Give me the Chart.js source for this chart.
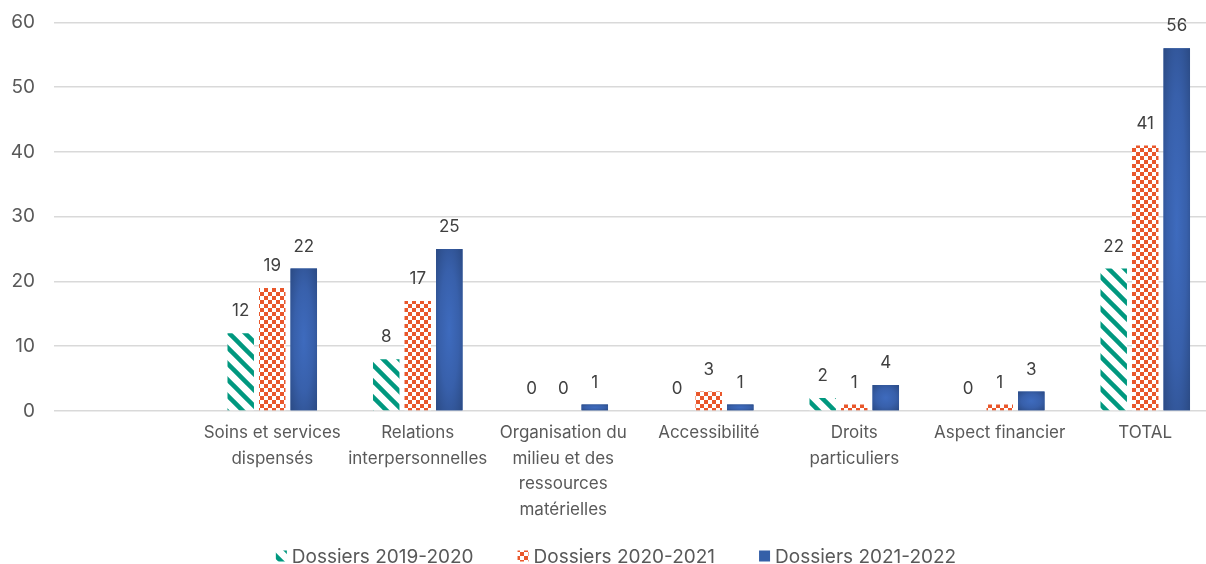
<!DOCTYPE html>
<html lang="fr">
<head>
<meta charset="utf-8">
<title>Dossiers par motif</title>
<script src="https://cdn.jsdelivr.net/npm/chart.js@4/dist/chart.umd.min.js"></script>
<style>
  html, body { margin: 0; padding: 0; background: #ffffff; overflow: hidden; }
  #wrap { width: 1232px; height: 572px; margin-top: -8px; }
</style>
</head>
<body>
<div id="wrap"><canvas id="chart" width="1232" height="572"></canvas></div>
<script>
// Motifs (the first slot is intentionally left blank)
const categories = [
  '',
  ['Soins et services', 'dispensés'],
  ['Relations', 'interpersonnelles'],
  ['Organisation du', 'milieu et des', 'ressources', 'matérielles'],
  'Accessibilité',
  ['Droits', 'particuliers'],
  'Aspect financier',
  'TOTAL'
];

const seriesNames = ['Dossiers 2019-2020', 'Dossiers 2020-2021', 'Dossiers 2021-2022'];

const dossiers2019 = [null, 12, 8, 0, 0, 2, 0, 22];
const dossiers2020 = [null, 19, 17, 0, 3, 1, 1, 41];
const dossiers2021 = [null, 22, 25, 1, 1, 4, 3, 56];

const yTicks = [0, 10, 20, 30, 40, 50, 60];

const GREEN = '#00987F';
const ORANGE = '#E9572B';
const BLUE = '#3560A8';
const TEXT = '#595959';
const FONT = 'Inter, "Open Sans", "DejaVu Sans", sans-serif';

// Diagonal stripe fill for the first series
function stripePattern(color) {
  const c = document.createElement('canvas');
  c.width = 16; c.height = 16;
  const g = c.getContext('2d');
  g.fillStyle = '#ffffff';
  g.fillRect(0, 0, 16, 16);
  g.strokeStyle = color;
  g.lineWidth = 4.5;
  g.lineCap = 'square';
  for (const x0 of [-16, 0, 16]) {
    g.beginPath();
    g.moveTo(x0, 0);
    g.lineTo(x0 + 16, 16);
    g.stroke();
  }
  return g.createPattern(c, 'repeat');
}

// Checkerboard fill for the second series
function checkerPattern(color) {
  const c = document.createElement('canvas');
  c.width = 8; c.height = 8;
  const g = c.getContext('2d');
  g.fillStyle = '#ffffff';
  g.fillRect(0, 0, 8, 8);
  g.fillStyle = color;
  g.fillRect(0, 0, 4, 4);
  g.fillRect(4, 4, 4, 4);
  return g.createPattern(c, 'repeat');
}

// Shades the third series with a soft centre-lit gradient
const shadedBars = {
  id: 'shadedBars',
  afterDatasetDraw(chart, args) {
    if (args.index !== 2) return;
    const ctx = chart.ctx;
    args.meta.data.forEach((el) => {
      const p = el.getProps(['x', 'y', 'base', 'width'], true);
      const h = Math.abs(p.base - p.y);
      if (!h) return;
      const cy = (p.y + p.base) / 2;
      ctx.save();
      ctx.translate(p.x, cy);
      ctx.scale(p.width / 2, h / 2);
      const grad = ctx.createRadialGradient(0, 0, 0, 0, 0, 1.35);
      grad.addColorStop(0, '#3E6BBE');
      grad.addColorStop(0.55, '#3860AB');
      grad.addColorStop(1, '#2C4C87');
      ctx.fillStyle = grad;
      ctx.fillRect(-1, -1, 2, 2);
      ctx.restore();
    });
  }
};

// Value written above every bar
const valueLabels = {
  id: 'valueLabels',
  afterDatasetsDraw(chart) {
    const ctx = chart.ctx;
    ctx.save();
    ctx.font = '17px ' + FONT;
    ctx.fillStyle = '#404040';
    ctx.textAlign = 'center';
    ctx.textBaseline = 'middle';
    chart.data.datasets.forEach((ds, i) => {
      const meta = chart.getDatasetMeta(i);
      meta.data.forEach((el, j) => {
        const v = ds.data[j];
        if (v === null || v === undefined) return;
        const p = el.getProps(['x', 'y'], true);
        ctx.fillText(String(v), p.x, p.y - 22);
      });
    });
    ctx.restore();
  }
};

// Legend row under the axis: swatch + series name, centred
const bottomLegend = {
  id: 'bottomLegend',
  afterDraw(chart) {
    const ctx = chart.ctx;
    const box = 11, gap = 5, spacing = 44;
    const y = chart.chartArea.bottom + 145;
    ctx.save();
    ctx.font = '19px ' + FONT;
    ctx.textBaseline = 'middle';
    ctx.textAlign = 'left';
    const items = chart.data.datasets.map(ds => ({
      text: ds.label,
      fill: ds.backgroundColor,
      w: box + gap + ctx.measureText(ds.label).width
    }));
    const total = items.reduce((s, it) => s + it.w, 0) + spacing * (items.length - 1);
    let x = chart.width / 2 - total / 2;
    items.forEach(it => {
      ctx.fillStyle = it.fill;
      ctx.fillRect(x, y - box / 2, box, box);
      ctx.fillStyle = TEXT;
      ctx.fillText(it.text, x + box + gap, y + 1);
      x += it.w + spacing;
    });
    ctx.restore();
  }
};

const stripe = stripePattern(GREEN);
const checker = checkerPattern(ORANGE);

new Chart(document.getElementById('chart'), {
  type: 'bar',
  data: {
    labels: categories,
    datasets: [
      { label: seriesNames[0], data: dossiers2019, backgroundColor: stripe, borderWidth: 0 },
      { label: seriesNames[1], data: dossiers2020, backgroundColor: checker, borderWidth: 0 },
      { label: seriesNames[2], data: dossiers2021, backgroundColor: BLUE, borderWidth: 0 }
    ]
  },
  options: {
    responsive: false,
    animation: false,
    devicePixelRatio: 1,
    categoryPercentage: 0.65,
    barPercentage: 0.84,
    layout: { padding: { top: 5, right: 14, left: 10, bottom: 0 } },
    plugins: {
      tooltip: { enabled: false },
      legend: { display: false }
    },
    scales: {
      x: {
        grid: { display: false, drawTicks: false },
        border: { display: false },
        afterFit(scale) { scale.height = 153; },
        ticks: {
          color: TEXT,
          font: { family: FONT, size: 17, lineHeight: 1.51 },
          padding: 9,
          autoSkip: false,
          maxRotation: 0
        }
      },
      y: {
        min: 0,
        max: 60,
        afterBuildTicks(axis) { axis.ticks = yTicks.map(v => ({ value: v })); },
        afterFit(scale) { scale.width = 44; },
        grid: { color: '#D9D9D9', lineWidth: 1.5, drawTicks: false },
        border: { display: false },
        ticks: {
          color: TEXT,
          font: { family: FONT, size: 19 },
          padding: 19
        }
      }
    }
  },
  plugins: [shadedBars, valueLabels, bottomLegend]
});
</script>
</body>
</html>
